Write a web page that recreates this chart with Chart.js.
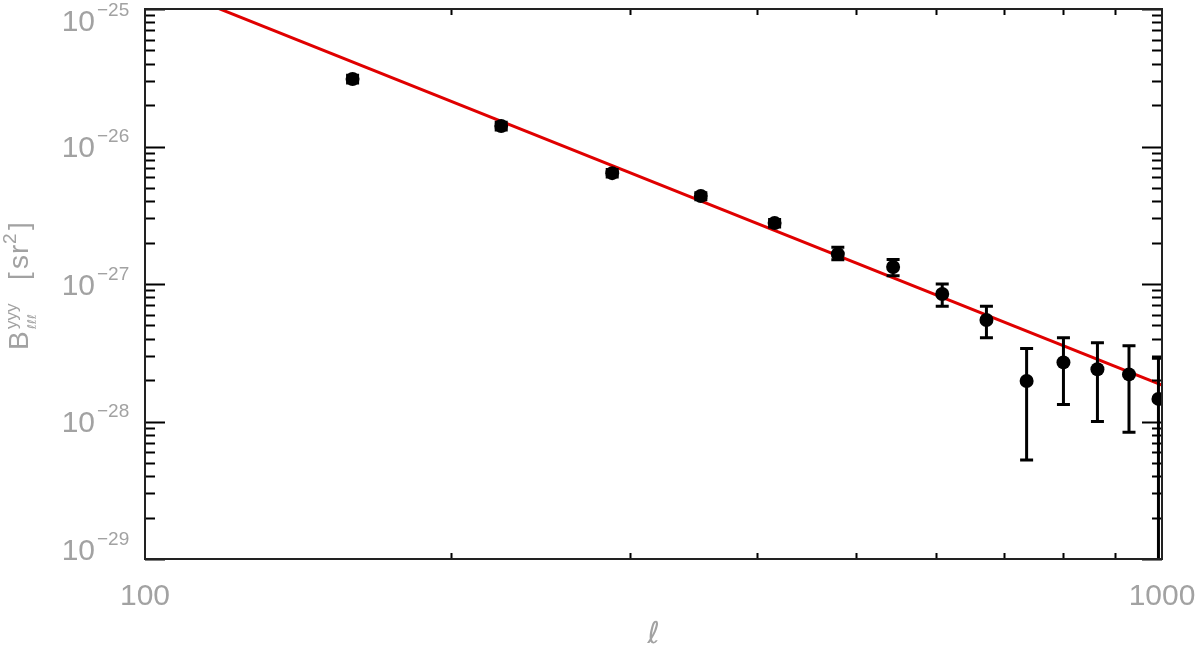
<!DOCTYPE html>
<html>
<head>
<meta charset="utf-8">
<script src="https://cdn.jsdelivr.net/npm/chart.js@4.4.1/dist/chart.umd.min.js"></script>
<style>
  html, body { margin: 0; background: #fff; }
  #wrap { width: 1200px; height: 647px; }
</style>
</head>
<body>
<div id="wrap"><canvas id="bispecChart"></canvas></div>
<script>
const ell    = [160, 224, 288, 352, 416, 480, 544, 608, 672, 736, 800, 864, 928, 992];
const bispec = [3.1e-26, 1.41e-26, 6.4e-27, 4.36e-27, 2.78e-27, 1.65e-27, 1.33e-27, 8.45e-28, 5.47e-28, 1.97e-28, 2.69e-28, 2.40e-28, 2.2e-28, 1.46e-28];
const errHi  = [3.3e-26, 1.5e-26, 6.8e-27, 4.6e-27, 2.95e-27, 1.85e-27, 1.51e-27, 1.0e-27, 6.9e-28, 3.4e-28, 4.07e-28, 3.74e-28, 3.56e-28, 2.88e-28];
const errLo  = [2.9e-26, 1.32e-26, 6.0e-27, 4.1e-27, 2.6e-27, 1.5e-27, 1.15e-27, 6.9e-28, 4.07e-28, 5.25e-29, 1.33e-28, 1.0e-28, 8.36e-29, 1e-30];
// power-law model line
const fitEll = [100, 1000];
const fitB   = [1.65e-25, 1.84e-28];
// axis labels
const xMajor = [100, 1000];
const yMajor = [1e-29, 1e-28, 1e-27, 1e-26, 1e-25];
const yExp   = ['\u221229', '\u221228', '\u221227', '\u221226', '\u221225'];

const labelColor = '#a2a2a2';

const frame = {
  id: 'frame',
  afterDatasetDraw(chart, args) {
    if (args.index !== 0) return; // after the red line, before the points
    const { ctx, chartArea: a, scales: { x, y } } = chart;
    ctx.save();
    ctx.beginPath(); ctx.rect(a.left, a.top, a.right - a.left, a.bottom - a.top); ctx.clip();
    ctx.strokeStyle = '#000'; ctx.lineWidth = 3; ctx.lineCap = 'butt';
    ell.forEach((l, i) => {
      const px = x.getPixelForValue(l), top = y.getPixelForValue(errHi[i]), bot = y.getPixelForValue(errLo[i]);
      ctx.beginPath();
      ctx.moveTo(px, top); ctx.lineTo(px, bot);
      ctx.moveTo(px - 6.5, top); ctx.lineTo(px + 6.5, top);
      ctx.moveTo(px - 6.5, bot); ctx.lineTo(px + 6.5, bot);
      ctx.stroke();
    });
    ctx.restore();
  },
  afterDraw(chart) {
    const { ctx, chartArea: a, scales: { x, y } } = chart;
    ctx.save();
    // ticks
    ctx.strokeStyle = '#000'; ctx.lineWidth = 2;
    ctx.beginPath();
    for (let d = -29; d < -25; d++) {
      for (let k = 1; k <= 9; k++) {
        const py = Math.round(y.getPixelForValue(k * Math.pow(10, d))) + 0.5;
        const len = k === 1 ? 20 : 10;
        ctx.moveTo(a.left, py); ctx.lineTo(a.left + len, py);
        ctx.moveTo(a.right, py); ctx.lineTo(a.right - len, py);
      }
    }
    const pt = Math.round(y.getPixelForValue(1e-25)) + 0.5;
    ctx.moveTo(a.left, pt); ctx.lineTo(a.left + 20, pt);
    ctx.moveTo(a.right, pt); ctx.lineTo(a.right - 20, pt);
    for (let k = 2; k <= 9; k++) {
      const px = Math.round(x.getPixelForValue(k * 100)) + 0.5;
      ctx.moveTo(px, a.bottom); ctx.lineTo(px, a.bottom - 6);
      ctx.moveTo(px, a.top); ctx.lineTo(px, a.top + 6);
    }
    ctx.stroke();
    // frame
    ctx.strokeStyle = '#222'; ctx.lineWidth = 2;
    ctx.strokeRect(a.left, a.top, a.right - a.left, a.bottom - a.top);

    // tick labels
    ctx.fillStyle = labelColor;
    ctx.font = '30px "Liberation Sans"';
    ctx.textAlign = 'center'; ctx.textBaseline = 'alphabetic';
    xMajor.forEach(v => ctx.fillText(String(v), x.getPixelForValue(v), 605));
    yMajor.forEach((v, i) => {
      const cy = Math.min(Math.max(y.getPixelForValue(v), a.top + 11), a.bottom - 10);
      ctx.font = '30px "Liberation Sans"'; ctx.textAlign = 'right';
      ctx.fillText('10', 95, cy + 10.5);
      ctx.font = '19px "Liberation Sans"'; ctx.textAlign = 'left';
      ctx.fillText(yExp[i], 97, cy - 4.5);
    });

    // x title
    ctx.font = '30px "DejaVu Sans"'; ctx.textAlign = 'center';
    ctx.fillText('\u2113', (a.left + a.right) / 2, 643);

    // y title, rotated, reading bottom to top
    ctx.translate(28, 350); ctx.rotate(-Math.PI / 2);
    ctx.textAlign = 'left';
    ctx.font = '28px "Liberation Sans"'; ctx.fillText('B', 0, 0);
    ctx.font = '17px "Liberation Sans"'; ctx.fillText('yyy', 21, -11);
    ctx.font = 'italic 12px "DejaVu Sans"'; ctx.fillText('\u2113\u2113\u2113', 21, 8);
    ctx.font = '28px "Liberation Sans"';
    ctx.fillText('[', 70, 0); ctx.fillText('s', 81, 0); ctx.fillText('r', 96, 0);
    ctx.font = '19px "Liberation Sans"'; ctx.fillText('2', 106, -12);
    ctx.font = '28px "Liberation Sans"'; ctx.fillText(']', 120, 0);
    ctx.restore();
  }
};

new Chart(document.getElementById('bispecChart'), {
  type: 'scatter',
  data: {
    datasets: [
      { type: 'line', data: fitEll.map((l, i) => ({ x: l, y: fitB[i] })), borderColor: '#e00000', borderWidth: 3,
        pointRadius: 0, fill: false, showLine: true, order: 2, clip: 0 },
      { data: ell.map((l, i) => ({ x: l, y: bispec[i] })), backgroundColor: '#000', borderWidth: 0,
        pointRadius: 7, pointHoverRadius: 7, order: 1, clip: 0 }
    ]
  },
  options: {
    responsive: true, maintainAspectRatio: false, animation: false, events: [],
    layout: { padding: { left: 145, right: 38, top: 9, bottom: 88 } },
    plugins: { legend: { display: false }, tooltip: { enabled: false } },
    scales: {
      x: { type: 'logarithmic', min: 100, max: 1000, display: false },
      y: { type: 'logarithmic', min: 1e-29, max: 1e-25, display: false }
    }
  },
  plugins: [frame]
});
</script>
</body>
</html>
